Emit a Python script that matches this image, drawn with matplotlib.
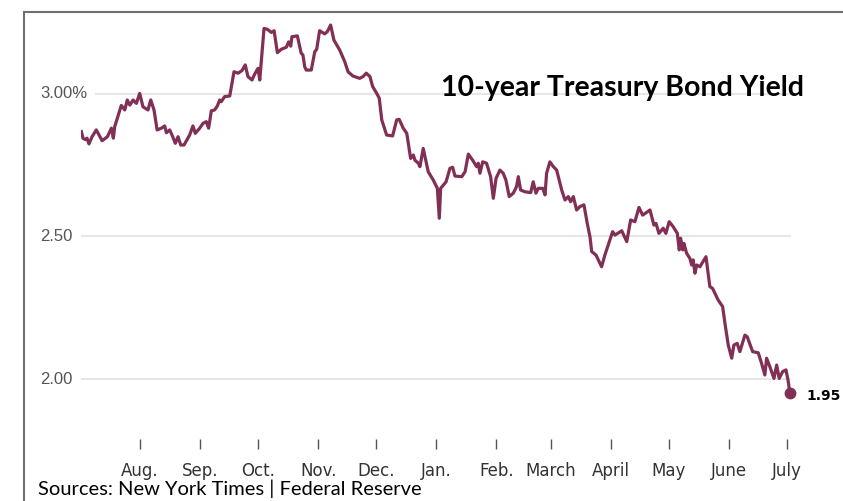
from datetime import date

import matplotlib
matplotlib.use("Agg")
import matplotlib.pyplot as plt
from matplotlib.lines import Line2D

# 10-year yield, July 2018 - July 2019 (x = days since 2018-07-01)
days = [0.7, 1.5, 2.7, 3.6, 4.6, 6.2, 8.4, 11.4, 14.1, 16.2,
        17.2, 17.9, 21.3, 23.1, 24.4, 25.7, 27.4, 29.1, 30.8, 32.5,
        35.1, 36.5, 38.2, 39.8, 42.0, 43.7, 44.6, 46.3, 47.5, 49.2,
        50.6, 52.0, 53.7, 56.6, 58.3, 59.5, 61.8, 63.5, 65.2, 66.4,
        67.8, 69.5, 70.9, 72.1, 72.9, 74.7, 77.3, 79.5, 81.6, 83.6,
        85.3, 86.7, 88.8, 90.2, 91.9, 92.8, 95.0, 96.7, 98.8, 100.2,
        101.9, 103.9, 106.5, 107.7, 108.8, 109.4, 112.2, 114.2, 115.1, 116.0,
        116.8, 119.4, 121.2, 122.2, 123.7, 126.3, 127.7, 129.4, 131.1, 134.1,
        136.7, 138.4, 140.9, 144.4, 146.1, 147.8, 149.7, 151.1, 153.2, 154.5,
        155.8, 158.3, 161.4, 163.5, 164.8, 166.9, 168.7, 170.7, 172.1, 172.9,
        174.7, 175.5, 177.2, 179.8, 182.4, 184.5, 185.5, 186.2, 189.0, 191.0,
        192.4, 193.6, 197.1, 198.8, 200.5, 202.7, 204.8, 205.6, 206.5, 207.9,
        209.9, 212.0, 213.4, 214.8, 216.8, 218.5, 219.9, 221.6, 223.7, 225.4,
        226.3, 227.5, 229.7, 232.7, 234.0, 235.4, 236.6, 238.9, 240.1, 240.9,
        242.6, 244.4, 246.1, 248.7, 250.4, 252.1, 253.3, 254.7, 256.4, 258.1,
        260.2, 261.9, 263.3, 264.2, 266.4, 269.3, 271.0, 273.3, 275.0, 276.2,
        279.7, 282.3, 284.3, 286.5, 288.6, 290.5, 294.3, 296.3, 297.4, 298.9,
        301.1, 302.5, 304.2, 306.3, 308.4, 309.4, 310.1, 311.2, 311.8, 313.2,
        314.9, 315.8, 316.6, 317.5, 318.4, 320.1, 323.2, 325.2, 326.6, 329.5,
        331.8, 333.0, 334.7, 336.5, 337.6, 339.3, 340.7, 343.3, 344.5, 347.3,
        350.2, 351.9, 353.6, 354.5, 356.2, 358.3, 359.7, 361.0, 362.8, 364.5,
        365.7, 366.5]

yields = [2.868, 2.845, 2.84, 2.845, 2.825, 2.85, 2.874, 2.836, 2.85, 2.88,
          2.845, 2.885, 2.96, 2.944, 2.979, 2.961, 2.979, 2.967, 3.002, 2.955,
          2.944, 2.979, 2.944, 2.874, 2.88, 2.888, 2.864, 2.874, 2.856, 2.827,
          2.85, 2.821, 2.821, 2.856, 2.888, 2.862, 2.88, 2.897, 2.903, 2.88,
          2.941, 2.944, 2.958, 2.979, 2.973, 2.991, 2.993, 3.078, 3.073, 3.082,
          3.102, 3.061, 3.049, 3.07, 3.09, 3.049, 3.23, 3.227, 3.216, 3.222,
          3.145, 3.157, 3.164, 3.183, 3.168, 3.201, 3.204, 3.143, 3.137, 3.096,
          3.084, 3.084, 3.148, 3.157, 3.222, 3.211, 3.219, 3.242, 3.189, 3.154,
          3.113, 3.078, 3.063, 3.055, 3.061, 3.073, 3.061, 3.026, 3.002, 2.985,
          2.909, 2.856, 2.853, 2.909, 2.911, 2.88, 2.862, 2.774, 2.786, 2.768,
          2.757, 2.745, 2.809, 2.727, 2.698, 2.669, 2.564, 2.669, 2.692, 2.739,
          2.743, 2.712, 2.71, 2.727, 2.789, 2.768, 2.745, 2.757, 2.722, 2.762,
          2.757, 2.71, 2.634, 2.704, 2.733, 2.722, 2.698, 2.64, 2.652, 2.675,
          2.71, 2.663, 2.657, 2.654, 2.692, 2.652, 2.669, 2.669, 2.646, 2.722,
          2.762, 2.745, 2.733, 2.663, 2.628, 2.64, 2.622, 2.64, 2.593, 2.605,
          2.611, 2.546, 2.499, 2.447, 2.435, 2.394, 2.435, 2.482, 2.517, 2.505,
          2.52, 2.482, 2.558, 2.552, 2.602, 2.575, 2.593, 2.54, 2.546, 2.511,
          2.529, 2.511, 2.552, 2.534, 2.511, 2.453, 2.494, 2.453, 2.476, 2.441,
          2.423, 2.4, 2.418, 2.371, 2.4, 2.394, 2.429, 2.324, 2.318, 2.277,
          2.254, 2.195, 2.119, 2.073, 2.119, 2.125, 2.096, 2.154, 2.148, 2.096,
          2.092, 2.055, 2.014, 2.073, 2.043, 2.002, 2.049, 2.002, 2.026, 2.032,
          1.991, 1.95]

month_starts = [(2018, 8), (2018, 9), (2018, 10), (2018, 11), (2018, 12), (2019, 1),
                (2019, 2), (2019, 3), (2019, 4), (2019, 5), (2019, 6), (2019, 7)]
month_labels = ["Aug.", "Sep.", "Oct.", "Nov.", "Dec.", "Jan.",
                "Feb.", "March", "April", "May", "June", "July"]
y_levels = [2.0, 2.5, 3.0]
y_labels = ["2.00", "2.50", "3.00%"]

LINE = "#822f55"
W, H = 843, 501

fig = plt.figure(figsize=(W / 100, H / 100), dpi=100)
ax = fig.add_axes([81 / W, (H - 449) / H, 710 / W, 437 / H])

ax.plot(days, yields, color=LINE, lw=2.3, solid_joinstyle="round", zorder=3)
ax.plot(days[-1], yields[-1], "o", color=LINE, ms=7.5, zorder=4, clip_on=False)
ax.annotate(f"{yields[-1]:.2f}", (days[-1], yields[-1]), xytext=(12, -2),
            textcoords="offset points", ha="left", va="center",
            fontsize=10, fontweight="bold", family="DejaVu Sans",
            color="black", annotation_clip=False)

ax.set_xlim(0.5, 367.1)
ax.set_ylim(1.7544, 3.2877)

# gridlines start right after their labels
grid_start = {"2.00": 0.0, "2.50": 0.0, "3.00%": 0.021}
for lvl, lab in zip(y_levels, y_labels):
    ax.axhline(lvl, xmin=grid_start[lab], xmax=1.0, color="#e6e6e6", lw=1.4, zorder=1)
    ax.text(-0.0577, lvl, lab, transform=ax.get_yaxis_transform(),
            ha="left", va="center", fontsize=12, color="#555555",
            family=["Liberation Sans", "DejaVu Sans"])

start = date(2018, 7, 1)
ticks = [(date(y, m, 1) - start).days for y, m in month_starts]
ax.set_xticks(ticks)
ax.set_xticklabels(month_labels, family=["Liberation Sans Narrow", "DejaVu Sans"],
                   fontsize=12, color="#333333")
ax.tick_params(axis="x", direction="in", length=7, width=1, color="#555555", pad=9)
ax.set_yticks([])
for s in ax.spines.values():
    s.set_visible(False)
ax.patch.set_alpha(0)

fig.text(441 / W, 1 - 88 / H, "10-year Treasury Bond Yield", ha="left", va="center",
         fontsize=20.5, fontweight="bold", family=["Lato", "DejaVu Sans"])
fig.text(38 / W, 1 - 489 / H, "Sources: New York Times | Federal Reserve",
         ha="left", va="center", fontsize=14.5, family=["Lato", "DejaVu Sans"])

# frame on the left and top
fig.add_artist(Line2D([24 / W, 24 / W], [0, 1 - 12 / H], transform=fig.transFigure,
                      color="#707070", lw=1.5))
fig.add_artist(Line2D([24 / W, 1], [1 - 12 / H, 1 - 12 / H], transform=fig.transFigure,
                      color="#707070", lw=1.5))

fig.savefig("out.png", dpi=100)
